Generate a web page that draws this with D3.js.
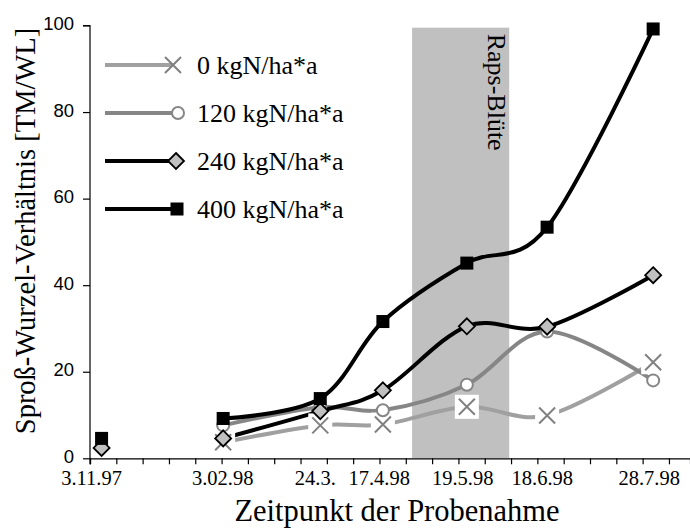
<!DOCTYPE html>
<html><head><meta charset="utf-8">
<script src="https://cdn.jsdelivr.net/npm/d3@7"></script>
<style>html,body{margin:0;padding:0;background:#fff;}svg{display:block;}</style>
</head><body>
<svg id="chart" width="690" height="528"></svg>
<script>
// ---- data ----
const categories = ["3.11.97","3.02.98","24.3.","17.4.98","19.5.98","18.6.98","28.7.98"];
// sample position on the (irregular) x axis, in tick units
const samplePos = [0.44, 5.06, 8.75, 11.13, 14.32, 17.37, 21.4];
// label anchor positions along the x axis (tick units)
const labelPos = [0.06, 5.04, 8.56, 10.99, 14.16, 17.19, 21.25];
const seriesNames = ["0 kgN/ha*a", "120 kgN/ha*a", "240 kgN/ha*a", "400 kgN/ha*a"];
const n0   = [null, 3.7, 7.6, 7.8, 11.9, 9.9, 22.2];
const n120 = [null, 7.6, 11.8, 11.1, 17.0, 29.3, 18.0];
const n240 = [2.4, 4.6, 10.9, 15.7, 30.5, 30.4, 42.3];
const n400 = [4.6, 9.2, 13.8, 31.6, 45.1, 53.4, 99.2];
const yTicks = [0, 20, 40, 60, 80, 100];
const bloom = {from: 12.24, to: 15.93, top: 99.5, label: "Raps-Blüte"};

// ---- layout ----
const svg = d3.select("#chart");
const x = d3.scaleLinear().domain([0, 22.8]).range([90, 690]);
const y = d3.scaleLinear().domain([0, 100]).range([458.3, 25.5]);
const serif = "'Liberation Serif','Times New Roman',serif";
const sans = "'Liberation Sans',Arial,sans-serif";

// bloom band
svg.append("rect")
  .attr("x", x(bloom.from)).attr("y", y(bloom.top))
  .attr("width", x(bloom.to) - x(bloom.from)).attr("height", y(0) - y(bloom.top))
  .attr("fill", "#c0c0c0");
svg.append("text")
  .attr("transform", `translate(${x(bloom.to) - 21},${y(bloom.top) + 6}) rotate(90)`)
  .attr("font-family", serif).attr("font-size", 26).attr("fill", "#000")
  .text(bloom.label);

// axes
const xAxis = d3.axisBottom(x).tickValues(d3.range(0, 23)).tickSize(6).tickFormat("");
const gx = svg.append("g").attr("transform", `translate(0,${y(0)})`).call(xAxis);
gx.select(".domain").attr("stroke", "#000").attr("stroke-width", 1.2);
gx.selectAll(".tick line").attr("stroke", "#000").attr("stroke-width", 1.2);

const yAxis = d3.axisLeft(y).tickValues(yTicks).tickSize(7).tickPadding(9);
const gy = svg.append("g").attr("transform", `translate(${x(0)},0)`).call(yAxis);
gy.select(".domain").attr("stroke", "#000").attr("stroke-width", 1.2).attr("d", `M-7,${y(100)}H0V${y(0)+6}`);
gy.selectAll(".tick line").attr("stroke", "#000").attr("stroke-width", 1.2);
gy.selectAll(".tick text").attr("font-family", sans).attr("font-size", 18.5).attr("fill", "#000").attr("dy", "0.22em");

// category labels
svg.append("g").selectAll("text").data(categories).join("text")
  .attr("x", (d, i) => x(labelPos[i])).attr("y", 485)
  .attr("text-anchor", "middle").attr("font-family", serif).attr("font-size", 20.5)
  .text(d => d);

// axis titles
svg.append("text").attr("x", 397).attr("y", 521).attr("text-anchor", "middle")
  .attr("font-family", serif).attr("font-size", 30.5).text("Zeitpunkt der Probenahme");
svg.append("text").attr("transform", "translate(35,231) rotate(-90)").attr("text-anchor", "middle")
  .attr("font-family", serif).attr("font-size", 28.5).text("Sproß-Wurzel-Verhältnis [TM/WL]");

// series definitions
const series = [
  {name: seriesNames[0], values: n0,   line: "#a0a0a0", marker: "cross"},
  {name: seriesNames[1], values: n120, line: "#868686", marker: "circle"},
  {name: seriesNames[2], values: n240, line: "#000000", marker: "diamond"},
  {name: seriesNames[3], values: n400, line: "#000000", marker: "square"}
];

const line = d3.line()
  .x(d => x(d.p)).y(d => y(d.v))
  .curve(d3.curveCardinal.tension(0));

// lines (the first sampling date is not connected in the source chart)
series.forEach(s => {
  const pts = s.values.map((v, i) => ({p: samplePos[i], v}))
    .filter((d, i) => i > 0 && d.v != null);
  svg.append("path").attr("d", line(pts)).attr("fill", "none")
    .attr("stroke", s.line).attr("stroke-width", 4).attr("stroke-linejoin", "round");
});

function drawMarker(g, type, cx, cy, withBox) {
  if (type === "cross") {
    if (withBox) g.append("rect").attr("x", cx - 12).attr("y", cy - 12).attr("width", 24).attr("height", 24).attr("fill", "#fff");
    g.append("path").attr("d", `M${cx-8},${cy-8}L${cx+8},${cy+8}M${cx-8},${cy+8}L${cx+8},${cy-8}`)
      .attr("stroke", "#808080").attr("stroke-width", 2).attr("fill", "none");
  } else if (type === "circle") {
    g.append("circle").attr("cx", cx).attr("cy", cy).attr("r", 6)
      .attr("fill", "#fff").attr("stroke", "#868686").attr("stroke-width", 2);
  } else if (type === "diamond") {
    g.append("path").attr("d", `M${cx},${cy-8}L${cx+8},${cy}L${cx},${cy+8}L${cx-8},${cy}Z`)
      .attr("fill", "#c0c0c0").attr("stroke", "#000").attr("stroke-width", 1.8);
  } else {
    g.append("rect").attr("x", cx - 6.5).attr("y", cy - 6.5).attr("width", 13).attr("height", 13).attr("fill", "#000");
  }
}

// markers
series.forEach(s => {
  const g = svg.append("g");
  s.values.forEach((v, i) => {
    if (v == null) return;
    drawMarker(g, s.marker, x(samplePos[i]), y(v), true);
  });
});

// legend
const legY = [65, 113, 161, 209];
const legMarkX = [173, 178, 176, 177];
series.forEach((s, i) => {
  const g = svg.append("g");
  g.append("line").attr("x1", 105).attr("x2", legMarkX[i]).attr("y1", legY[i]).attr("y2", legY[i])
    .attr("stroke", s.line).attr("stroke-width", 4);
  drawMarker(g, s.marker, legMarkX[i], legY[i], false);
  g.append("text").attr("x", 197).attr("y", legY[i] + 9)
    .attr("font-family", serif).attr("font-size", 26).text(s.name);
});
</script>
</body></html>
